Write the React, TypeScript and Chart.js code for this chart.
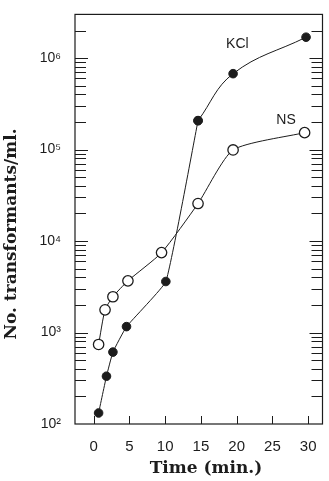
import React, { useEffect, useRef } from 'react';
import { Chart, registerables } from 'chart.js';

Chart.register(...registerables);

// ---- data ----
const kclTime = [0.7, 1.8, 2.7, 4.6, 10.1, 14.6, 19.5, 29.7];
const kclCount = [132, 333, 611, 1160, 3610, 207000, 675000, 1690000];
const nsTime = [0.7, 1.6, 2.7, 4.8, 9.5, 14.6, 19.5, 29.5];
const nsCount = [740, 1770, 2460, 3670, 7470, 25700, 99000, 153000];

const xTickValues = [0, 5, 10, 15, 20, 25, 30];
const yDecades = [100, 1000, 10000, 100000, 1000000];
const yDecadeLabels = ['10²', '10³', '10⁴', '10⁵', '10⁶'];
const yMantissas = [1, 2, 3, 4, 5, 6, 7, 8, 9];

const seriesNames = ['KCl', 'NS'];
const xTitle = 'Time (min.)';
const yTitle = 'No. transformants/ml.';

// index where the KCl curve turns from a straight rise into a smooth arc
const KCL_BEND = 5;

const INK = '#1c1c1c';

const decorPlugin = {
  id: 'decor',
  afterDraw(chart: any) {
    const { ctx, chartArea: a, scales } = chart;
    const x = scales.x;
    const y = scales.y;
    ctx.save();
    ctx.strokeStyle = INK;
    ctx.lineWidth = 1.2;
    ctx.strokeRect(a.left, a.top, a.right - a.left, a.bottom - a.top);

    ctx.lineWidth = 1;
    y.ticks.forEach((t: any) => {
      const py = Math.round(y.getPixelForValue(t.value)) + 0.5;
      if (py < a.top + 1 || py > a.bottom - 1) return;
      const isDecade = yDecades.includes(t.value);
      const len = isDecade ? 13 : 11;
      ctx.beginPath();
      ctx.moveTo(a.left, py);
      ctx.lineTo(a.left + len, py);
      ctx.moveTo(a.right, py);
      ctx.lineTo(a.right - len, py);
      ctx.stroke();
    });
    x.ticks.forEach((t: any) => {
      const px = Math.round(x.getPixelForValue(t.value)) + 0.5;
      ctx.beginPath();
      ctx.moveTo(px, a.bottom);
      ctx.lineTo(px, a.bottom - 8);
      ctx.stroke();
    });

    ctx.fillStyle = INK;
    ctx.font = '14px "Liberation Sans", Arial, sans-serif';
    ctx.textAlign = 'center';
    ctx.textBaseline = 'middle';
    ctx.fillText(seriesNames[0], x.getPixelForValue(20.1), y.getPixelForValue(1.42e6));
    ctx.fillText(seriesNames[1], x.getPixelForValue(26.9), y.getPixelForValue(2.12e5));

    ctx.font = 'bold 17px "DejaVu Serif", serif';
    ctx.fillText(xTitle, 206, 469);
    ctx.translate(12, 234);
    ctx.rotate(-Math.PI / 2);
    ctx.fillText(yTitle, 0, 0);
    ctx.restore();
  },
};

export default function App() {
  const ref = useRef<HTMLCanvasElement>(null);

  useEffect(() => {
    if (!ref.current) return;
    const kclPoints = kclTime.map((t, i) => ({ x: t, y: kclCount[i] }));
    const filledStyle = {
      borderColor: INK,
      borderWidth: 1,
      backgroundColor: INK,
      pointBackgroundColor: INK,
      pointBorderColor: INK,
      pointBorderWidth: 1,
      pointRadius: 4.3,
    };
    const chart = new Chart(ref.current, {
      type: 'line',
      data: {
        datasets: [
          {
            label: seriesNames[0],
            data: kclPoints.slice(0, KCL_BEND + 1),
            ...filledStyle,
            tension: 0.1,
          },
          {
            label: seriesNames[0] + ' (arc)',
            data: kclPoints.slice(KCL_BEND),
            ...filledStyle,
            tension: 0.4,
          },
          {
            label: seriesNames[1],
            data: nsTime.map((t, i) => ({ x: t, y: nsCount[i] })),
            borderColor: INK,
            borderWidth: 1,
            backgroundColor: '#ffffff',
            pointBackgroundColor: '#ffffff',
            pointBorderColor: INK,
            pointBorderWidth: 1.3,
            pointRadius: 5.2,
            tension: 0.2,
          },
        ],
      },
      options: {
        animation: false,
        responsive: false,
        events: [],
        layout: { padding: { top: 12, right: 2, left: 0, bottom: 0 } },
        plugins: {
          legend: { display: false },
          tooltip: { enabled: false },
        },
        scales: {
          x: {
            type: 'linear',
            position: 'bottom',
            min: -2.6,
            max: 32,
            afterBuildTicks: (s: any) => {
              s.ticks = xTickValues.map((v) => ({ value: v }));
            },
            afterFit: (s: any) => {
              s.height = 57;
            },
            grid: { display: false },
            border: { display: false },
            ticks: {
              autoSkip: false,
              maxRotation: 0,
              padding: 6,
              color: INK,
              font: { family: '"Liberation Sans", Arial, sans-serif', size: 15 },
            },
          },
          y: {
            type: 'logarithmic',
            min: 100,
            max: 3.0e6,
            afterBuildTicks: (s: any) => {
              const ticks: any[] = [];
              yDecades.forEach((d) => yMantissas.forEach((m) => ticks.push({ value: d * m })));
              s.ticks = ticks;
            },
            afterFit: (s: any) => {
              s.width = 75;
            },
            grid: { display: false },
            border: { display: false },
            ticks: {
              autoSkip: false,
              padding: 6,
              color: INK,
              font: { family: '"Liberation Sans", "DejaVu Sans", Arial, sans-serif', size: 14 },
              callback: (v: any) => {
                const i = yDecades.indexOf(Number(v));
                return i >= 0 ? yDecadeLabels[i] : '';
              },
            },
          },
        },
      } as any,
      plugins: [decorPlugin],
    });
    return () => chart.destroy();
  }, []);

  return (
    <div style={{ position: 'absolute', left: 0, top: 0, width: 329, height: 481, background: '#fff' }}>
      <canvas ref={ref} width={329} height={481} style={{ display: 'block' }} />
    </div>
  );
}
